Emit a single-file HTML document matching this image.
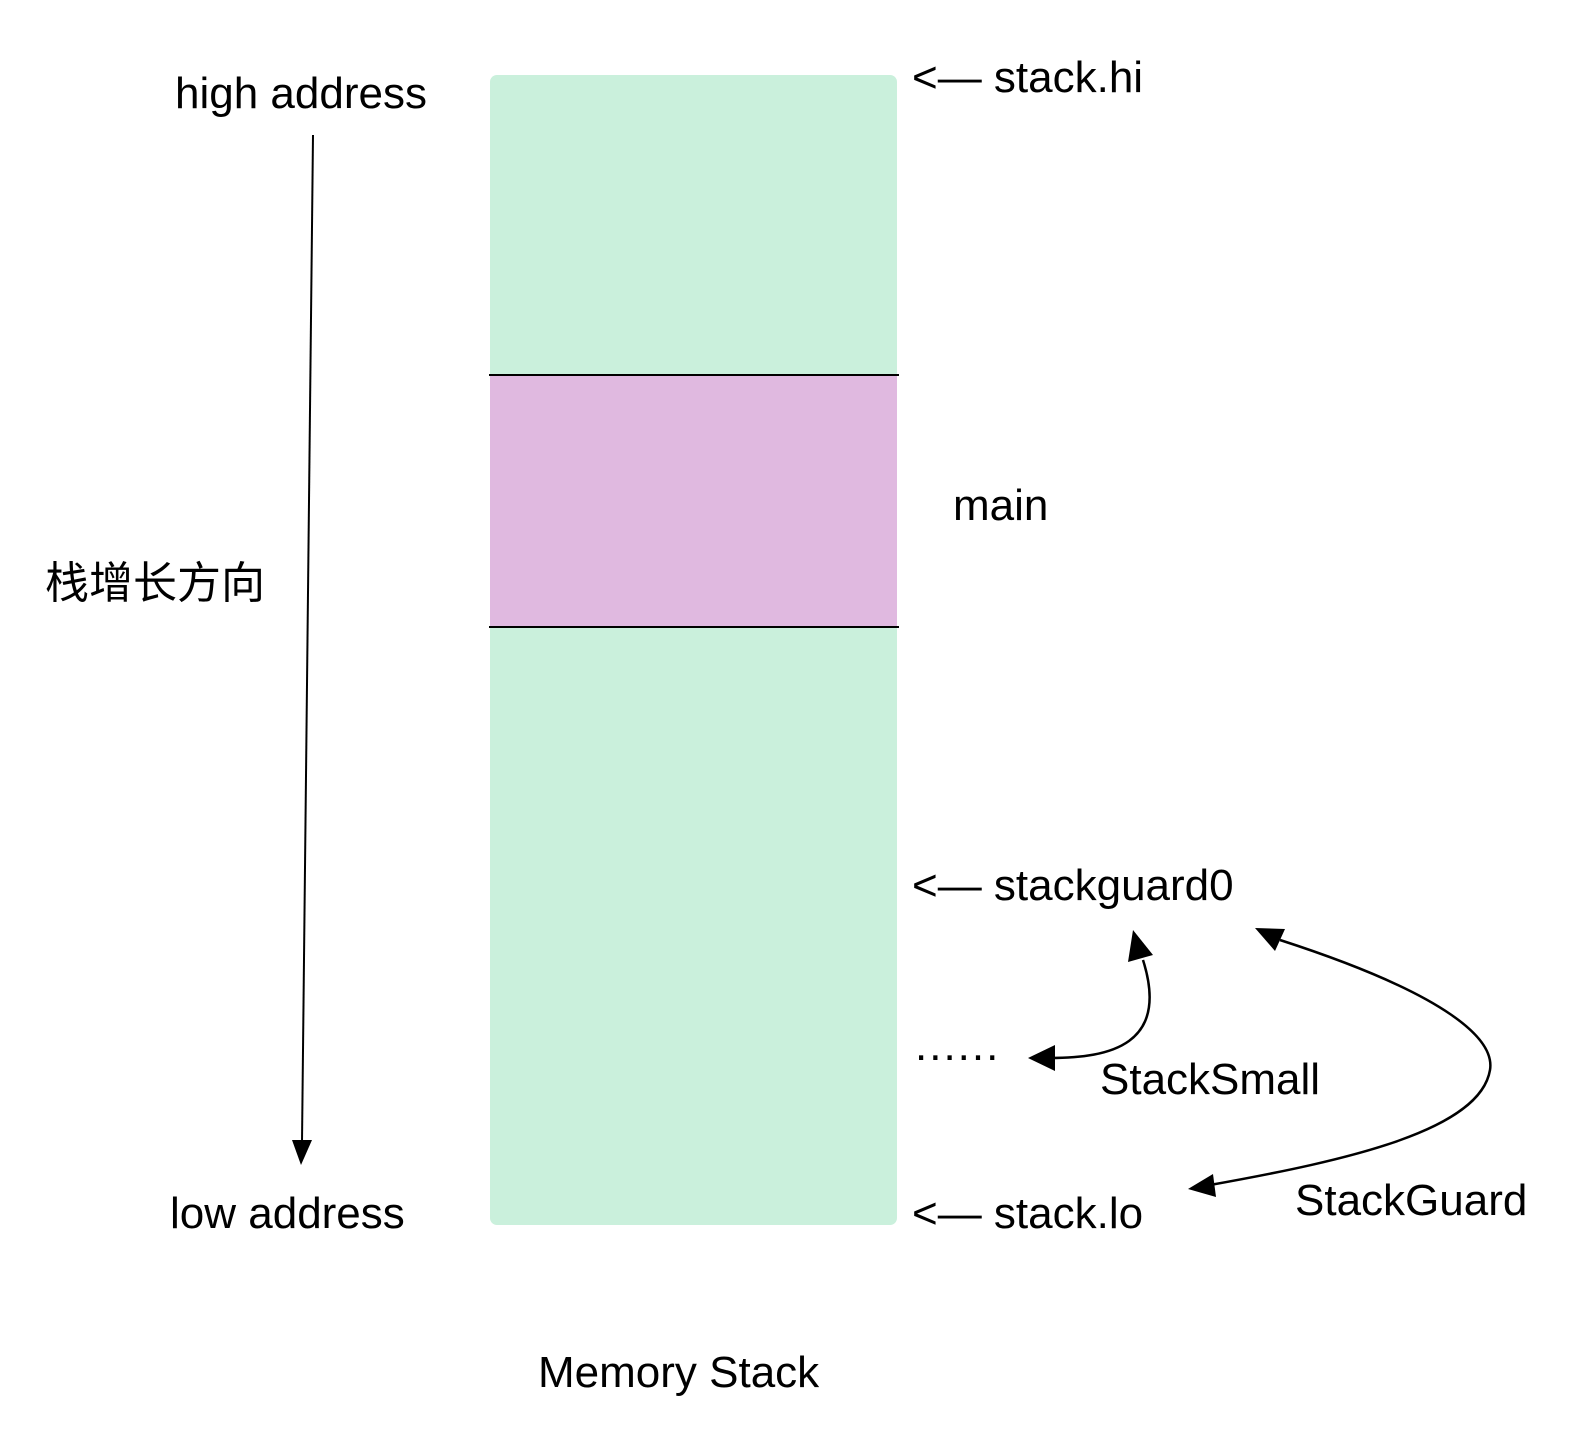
<!DOCTYPE html>
<html><head><meta charset="utf-8"><style>
html,body{margin:0;padding:0;background:#fff;}
body{width:1592px;height:1438px;position:relative;overflow:hidden;}
svg{position:absolute;left:0;top:0;}
text{font-family:"Liberation Sans","Noto Sans CJK SC",sans-serif;fill:#000;}
</style></head><body>
<svg width="1592" height="1438" viewBox="0 0 1592 1438" xmlns="http://www.w3.org/2000/svg">
<defs>
<marker id="ah" viewBox="0 0 10 10" refX="9" refY="5" markerWidth="9" markerHeight="9" markerUnits="userSpaceOnUse" orient="auto">
</marker>
</defs>
<rect x="490" y="75" width="407" height="1150" rx="7" fill="#caf0dc"/>
<rect x="490" y="375" width="407" height="252" fill="#e0b9e0"/>
<line x1="489" y1="375" x2="899" y2="375" stroke="#000" stroke-width="2"/>
<line x1="489" y1="627" x2="899" y2="627" stroke="#000" stroke-width="2"/>

<line x1="313" y1="135" x2="302" y2="1142" stroke="#000" stroke-width="2"/>
<polygon points="292,1140 312,1140 301,1165" fill="#000"/>

<text x="175" y="108" font-size="44">high address</text>
<text x="45" y="598" font-size="44">栈增长方向</text>
<text x="170" y="1228" font-size="44">low address</text>
<text x="912" y="92" font-size="44">&lt;— stack.hi</text>
<text x="953" y="520" font-size="44">main</text>
<text x="912" y="900" font-size="44">&lt;— stackguard0</text>
<text x="915" y="1060" font-size="44" letter-spacing="2">......</text>
<text x="1100" y="1094" font-size="44">StackSmall</text>
<text x="912" y="1228" font-size="44">&lt;— stack.lo</text>
<text x="1295" y="1215" font-size="44">StackGuard</text>
<text x="538" y="1387" font-size="44">Memory Stack</text>

<path d="M1050,1058 C1110,1058 1170,1045 1143,960" fill="none" stroke="#000" stroke-width="2.5"/>
<polygon points="1028,1058 1055,1045 1055,1071" fill="#000"/>
<polygon points="1133,930 1128,962 1153,955" fill="#000"/>

<path d="M1280,940 C1450,995 1495,1040 1490,1070 C1480,1130 1350,1160 1210,1185" fill="none" stroke="#000" stroke-width="2.5"/>
<polygon points="1255,928 1285,929 1275,951" fill="#000"/>
<polygon points="1188,1189 1213,1174 1216,1197" fill="#000"/>
</svg>
</body></html>
